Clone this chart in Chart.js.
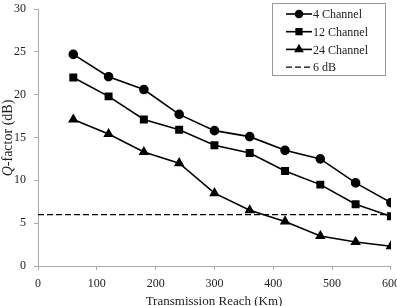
<!DOCTYPE html>
<html>
<head>
<meta charset="utf-8">
<script src="https://cdn.jsdelivr.net/npm/chart.js@4/dist/chart.umd.min.js"></script>
<style>
  html, body { margin: 0; padding: 0; background: #fff; }
  #wrap { width: 397px; height: 306px; }
</style>
</head>
<body>
<div id="wrap"><canvas id="qChart" width="397" height="306"></canvas></div>
<script>
// Data
const reachKm = [60, 120, 180, 240, 300, 360, 420, 480, 540, 600];
const ch4 = [24.7, 22.1, 20.6, 17.7, 15.8, 15.1, 13.5, 12.5, 9.7, 7.4];
const ch12 = [22.0, 19.8, 17.1, 15.9, 14.1, 13.2, 11.1, 9.5, 7.2, 5.8];
const ch24 = [17.1, 15.4, 13.3, 12.0, 8.5, 6.5, 5.2, 3.5, 2.8, 2.3];
const thresholdDb = 6;
const xTicks = [0, 100, 200, 300, 400, 500, 600];
const yTicks = [0, 5, 10, 15, 20, 25, 30];
const seriesNames = ['4 Channel', '12 Channel', '24 Channel', '6 dB'];

const serif = '"Liberation Serif", "DejaVu Serif", serif';
const toPoints = arr => arr.map((v, i) => ({ x: reachKm[i], y: v }));

// legend box + axis titles drawn on top of the chart area
const extras = {
    id: 'extras',
    afterDraw(chart) {
        const ctx = chart.ctx;
        ctx.save();
        // legend
        const bx = 272, by = 3, bw = 113, bh = 72;
        ctx.fillStyle = '#fff';
        ctx.fillRect(bx, by, bw, bh);
        ctx.strokeStyle = '#999';
        ctx.lineWidth = 1;
        ctx.strokeRect(bx + 0.5, by + 0.5, bw, bh);
        ctx.font = '12px ' + serif;
        ctx.textBaseline = 'middle';
        chart.data.datasets.forEach((ds, i) => {
            const y = by + 11 + i * 17.7;
            const x0 = bx + 14, x1 = bx + 40;
            ctx.strokeStyle = '#000';
            ctx.lineWidth = ds.borderWidth;
            ctx.setLineDash(ds.borderDash || []);
            ctx.beginPath();
            ctx.moveTo(x0, y);
            ctx.lineTo(x1, y);
            ctx.stroke();
            ctx.setLineDash([]);
            if (ds.pointRadius > 0) {
                ctx.fillStyle = '#000';
                Chart.helpers.drawPoint(ctx, {
                    pointStyle: ds.pointStyle, radius: ds.pointRadius - 0.5, rotation: 0, borderWidth: 1
                }, (x0 + x1) / 2, y);
            }
            ctx.fillStyle = '#222';
            ctx.fillText(ds.label, x1 + 1, y + 1);
        });
        // y axis title with italic Q
        ctx.translate(8, 138);
        ctx.rotate(-Math.PI / 2);
        ctx.fillStyle = '#222';
        ctx.textBaseline = 'middle';
        const rest = '-factor (dB)';
        ctx.font = '14px ' + serif;
        const wRest = ctx.measureText(rest).width;
        ctx.font = 'italic 14px ' + serif;
        const wQ = ctx.measureText('Q').width;
        let sx = -(wQ + wRest) / 2;
        ctx.textAlign = 'left';
        ctx.fillText('Q', sx, 0);
        ctx.font = '14px ' + serif;
        ctx.fillText(rest, sx + wQ, 0);
        ctx.restore();
        // x axis title
        ctx.save();
        ctx.font = '13px ' + serif;
        ctx.fillStyle = '#222';
        ctx.textAlign = 'center';
        ctx.textBaseline = 'middle';
        ctx.fillText('Transmission Reach (Km)', 214, 302);
        ctx.restore();
    }
};

new Chart(document.getElementById('qChart'), {
    type: 'line',
    data: {
        datasets: [
            {
                label: seriesNames[0], data: toPoints(ch4),
                borderColor: '#000', backgroundColor: '#000', borderWidth: 1.6,
                pointStyle: 'circle', pointRadius: 4
            },
            {
                label: seriesNames[1], data: toPoints(ch12),
                borderColor: '#000', backgroundColor: '#000', borderWidth: 1.6,
                pointStyle: 'rect', pointRadius: 4.5
            },
            {
                label: seriesNames[2], data: toPoints(ch24),
                borderColor: '#000', backgroundColor: '#000', borderWidth: 1.6,
                pointStyle: 'triangle', pointRadius: 4.5
            },
            {
                label: seriesNames[3],
                data: [{ x: xTicks[0], y: thresholdDb }, { x: xTicks[xTicks.length - 1], y: thresholdDb }],
                borderColor: '#000', borderWidth: 1.2, borderDash: [6, 3],
                pointRadius: 0
            }
        ]
    },
    options: {
        responsive: false,
        animation: false,
        layout: { padding: { top: 9, right: 6, left: 0, bottom: 0 } },
        plugins: { legend: { display: false }, tooltip: { enabled: false } },
        scales: {
            x: {
                type: 'linear', min: 0, max: 600,
                afterBuildTicks: s => { s.ticks = xTicks.map(v => ({ value: v })); },
                afterFit: s => { s.height = 40; s.paddingLeft = 0; s.paddingRight = 0; },
                grid: { drawOnChartArea: false, color: '#aaa', tickLength: 4 },
                border: { color: '#aaa' },
                ticks: { color: '#222', font: { family: serif, size: 12 }, padding: 7, maxRotation: 0 }
            },
            y: {
                min: 0, max: 30,
                afterBuildTicks: s => { s.ticks = yTicks.map(v => ({ value: v })); },
                afterFit: s => { s.width = 38; s.paddingTop = 0; s.paddingBottom = 0; },
                grid: { drawOnChartArea: false, color: '#aaa', tickLength: 4 },
                border: { color: '#aaa' },
                ticks: { color: '#222', font: { family: serif, size: 12 }, padding: 8 }
            }
        }
    },
    plugins: [extras]
});
</script>
</body>
</html>
